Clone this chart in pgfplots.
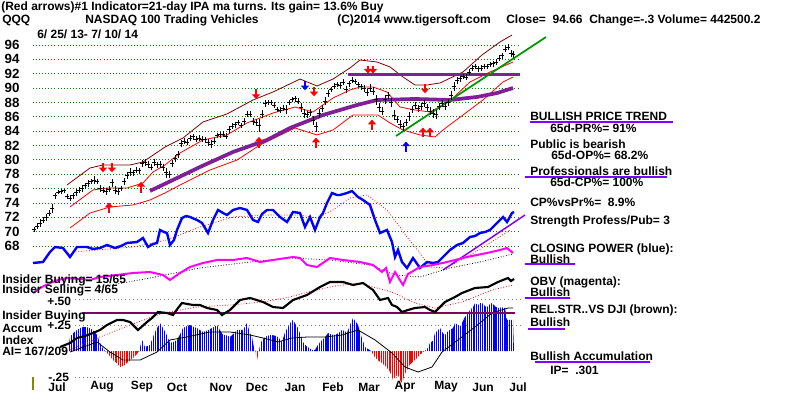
\documentclass[border=0pt]{standalone}
\usepackage{fontspec}
\setmainfont{Liberation Sans}
\usepackage{pgfplots}
\pgfplotsset{compat=1.18}
\usetikzlibrary{arrows.meta,patterns.meta}
\newcommand\tf{\fontsize{9}{10.8}\selectfont\bfseries}
\definecolor{cpblue}{RGB}{0,0,255}
\definecolor{obvmag}{RGB}{255,0,255}
\definecolor{maroonb}{RGB}{128,0,0}
\definecolor{tsred}{RGB}{255,0,0}
\definecolor{tspurple}{RGB}{128,32,150}
\definecolor{uline}{RGB}{128,0,255}
\definecolor{tsgreen}{RGB}{0,150,0}
\definecolor{gridgreen}{RGB}{0,128,0}
\definecolor{hline}{RGB}{128,0,100}
\pgfplotsset{frame/.style={scale only axis, width=600pt, height=296.25pt, xmin=0, xmax=800,
  at={(300pt,148.125pt)}, anchor=center, axis line style={draw=none}, tick style={draw=none}, clip=false}}
\begin{document}
\begin{tikzpicture}
\useasboundingbox (0,0) rectangle (600pt,296.25pt);
% ---------------- price panel (x: chart position, y: price) ----------------
\begin{axis}[frame, ymin=47.253, ymax=102.267,
  ytick={68,70,...,96}, yticklabel style={anchor=west, font=\fontsize{10}{12}\selectfont\bfseries},
  /pgf/number format/assume math mode=true,
  xtick={57,102,142,177,221,257,295,333,369,405,446,483,518},
  xticklabels={Jul,Aug,Sep,Oct,Nov,Dec,Jan,Feb,Mar,Apr,May,Jun,Jul},
  xticklabel style={anchor=center, yshift=6pt, font=\tf}]
\pgfplotsinvokeforeach{68,70,...,96}{
  \addplot[gridgreen, line width=0.6pt, dash pattern=on 0.7pt off 1.6pt] coordinates {(33,#1) (520,#1)};}
% upper band
\addplot[maroonb, line width=0.6pt] coordinates {(67,76.50)(90,78.87)(103,79.29)(130,79.29)(143,79.71)(165,81.79)(183,83.05)(203,85.28)(227,86.39)(253,88.34)(273,89.45)(300,91.26)(317,90.29)(333,91.26)(350,92.80)(360,93.91)(377,93.63)(390,92.94)(403,91.54)(415,90.43)(427,90.43)(440,90.71)(463,92.24)(482,94.61)(500,96.42)(512,97.39)};
% middle red
\addplot[tsred, line width=0.6pt] coordinates {(70,73.44)(93,75.81)(107,76.08)(127,76.08)(143,76.78)(153,78.31)(165,79.29)(180,80.96)(203,82.77)(227,83.47)(247,85.14)(260,85.83)(273,86.53)(295,87.36)(313,86.67)(333,88.62)(350,89.73)(360,90.15)(373,90.15)(387,89.45)(400,87.36)(415,86.95)(430,86.67)(443,87.64)(453,88.62)(470,90.85)(490,92.24)(513,93.63)};
% lower red
\addplot[tsred, line width=0.6pt] coordinates {(70,70.51)(90,72.60)(110,73.44)(133,73.72)(150,74.41)(165,75.39)(180,76.50)(210,78.59)(237,79.98)(260,82.07)(295,84.44)(317,83.47)(333,84.16)(353,86.25)(378,86.25)(390,85.14)(403,84.16)(420,83.47)(435,83.19)(443,84.16)(467,86.67)(483,88.34)(503,90.85)(513,91.54)};
% 65-day ma
\addplot[tspurple, line width=2.8pt] coordinates {(150,75.67)(173,77.20)(200,79.01)(233,81.10)(267,82.77)(290,84.44)(323,86.25)(357,87.64)(377,88.34)(415,88.48)(450,88.34)(477,88.76)(497,89.31)(513,90.01)};
\addplot[tspurple, line width=2.2pt] coordinates {(348,91.89)(520,91.89)};
\addplot[tsgreen, line width=1.3pt] coordinates {(396,83.33)(546,97.11)};
% price bars
\addplot[black, only marks, mark=-, mark size=1.3pt, mark options={line width=0.6pt},
  error bars/.cd, y dir=both, y explicit, error mark=none, error bar style={line width=0.75pt}]
  table[x=x, y=c, y error=e] {
x c e
34 70.3 0.4
37 70.8 0.4
40 71.2 0.5
43 71.6 0.4
46 72.0 0.5
49 72.6 0.4
52 73.2 0.6
55 75.0 0.4
58 75.5 0.3
61 75.6 0.3
64 75.7 0.3
67 74.9 0.4
70 74.7 0.4
73 75.0 0.4
76 75.4 0.5
79 75.8 0.4
82 76.0 0.5
85 76.4 0.4
88 76.7 0.5
91 77.0 0.4
94 77.2 0.5
97 77.0 0.4
100 76.0 0.5
103 75.8 0.4
106 75.6 0.5
109 75.9 0.4
112 76.8 0.6
115 75.8 0.5
118 75.6 0.5
121 76.0 0.4
124 77.0 0.5
127 77.8 0.5
130 78.3 0.5
133 78.2 0.4
136 78.6 0.4
139 78.5 0.4
142 79.5 0.5
145 79.6 0.5
148 79.3 0.5
151 79.0 0.4
154 79.6 0.5
157 79.3 0.4
160 79.4 0.5
163 78.9 0.5
166 78.2 0.7
169 78.0 0.5
172 79.5 0.5
175 80.2 0.5
178 80.8 0.5
181 82.3 0.5
184 82.6 0.4
187 82.5 0.4
190 83.0 0.4
193 83.2 0.4
196 82.9 0.4
199 83.0 0.4
202 82.9 0.4
205 82.8 0.4
208 82.4 0.5
211 82.2 0.6
214 82.6 0.4
217 83.4 0.4
220 83.5 0.4
223 83.6 0.4
226 83.3 0.4
229 84.2 0.5
232 84.7 0.4
235 84.9 0.4
238 85.2 0.4
241 84.8 0.4
244 85.4 0.5
247 86.4 0.4
250 86.4 0.4
253 85.4 0.5
256 85.2 0.5
259 84.8 0.9
262 86.4 0.6
265 87.8 0.5
268 88.0 0.4
271 88.0 0.4
274 87.6 0.4
277 87.0 0.4
280 86.9 0.4
283 87.2 0.4
286 87.0 0.6
289 88.0 0.4
292 88.4 0.4
295 88.5 0.4
298 88.2 0.4
301 87.3 0.6
304 86.5 0.6
307 86.3 0.5
310 86.6 0.5
313 85.5 0.6
316 84.6 0.7
319 86.5 0.6
322 87.2 0.5
325 88.2 0.5
328 89.2 0.5
331 89.8 0.4
334 90.3 0.4
337 90.5 0.4
340 90.4 0.4
343 90.8 0.4
346 89.8 0.5
349 90.6 0.4
352 91.1 0.4
355 90.9 0.4
358 90.5 0.4
361 90.2 0.4
364 89.9 0.5
367 89.4 0.5
370 90.0 0.5
373 89.6 0.5
376 88.4 0.7
379 87.3 0.6
382 86.8 0.5
385 88.4 0.6
388 89.0 0.5
391 88.0 0.6
394 86.2 0.7
397 85.6 0.5
400 85.0 0.6
403 84.6 0.6
406 85.2 0.5
409 86.0 0.6
412 87.0 0.5
415 87.6 0.5
418 87.2 0.5
421 87.4 0.5
424 87.8 0.5
427 87.3 0.5
430 86.8 0.5
433 86.5 0.6
436 86.3 0.6
439 87.4 0.5
442 87.8 0.5
445 87.5 0.5
448 88.0 0.5
451 89.0 0.6
454 90.2 0.6
457 91.0 0.5
460 91.3 0.4
463 91.6 0.4
466 91.5 0.4
469 92.2 0.4
472 92.8 0.4
475 93.0 0.4
478 92.7 0.4
481 92.8 0.4
484 93.0 0.4
487 93.0 0.4
490 93.3 0.4
493 93.4 0.4
496 93.6 0.4
499 94.2 0.4
502 94.5 0.4
505 95.4 0.4
508 95.7 0.4
511 94.8 0.5
513 94.7 0.5
};
% signal arrows
\addplot[tsred, line width=2pt, -{Triangle[width=6pt,length=3.5pt]}, quiver={u=\thisrow{u}, v=\thisrow{v}}] table {
x y u v
103 79.57 0 -1.30
112 79.57 0 -1.30
256 89.87 0 -1.39
314 90.15 0 -1.30
368 93.08 0 -1.05
373 93.08 0 -1.05
425 90.57 0 -1.30
109 72.60 0 1.45
141 75.39 0 1.55
259 81.65 0 1.55
316 81.65 0 1.45
372 84.16 0 1.45
423 83.19 0 1.30
430 83.19 0 1.30
};
\addplot[cpblue, line width=2pt, -{Triangle[width=6pt,length=3.5pt]}, quiver={u=\thisrow{u}, v=\thisrow{v}}] table {
x y u v
305 90.99 0 -1.30
406 81.10 0 1.45
};
\end{axis}
% ---------------- accumulation index ----------------
\begin{axis}[frame, ymin=-0.423, ymax=3.375, xtick=\empty, ytick=\empty]
\pgfplotsinvokeforeach{-0.25,0.25,0.5}{
  \addplot[gray, line width=0.6pt, dash pattern=on 0.7pt off 2.2pt] coordinates {(75,#1) (520,#1)};}
\addplot[draw=none, pattern={Lines[angle=90,distance=1.37pt,line width=0.8pt]}, pattern color=cpblue] coordinates {
(68,0)(70,0.135)(74,0.18)(77,0.202)(80,0.22)(83,0.231)(86,0.23)(90,0.221)(94,0.19)(97,0.154)(100,0.08)(102,0.038)(105,0)
(139,0)(142,0.106)(145,0.038)(150,0.058)(155,0.183)(160,0.269)(163,0.22)(166,0.17)(170,0.077)(174,0.09)(177,0.106)(180,0.16)
(183,0.221)(187,0.24)(190,0.25)(194,0.23)(197,0.221)(200,0.2)(203,0.183)(208,0.2)(212,0.221)(217,0.25)(220,0.2)(223,0.154)
(227,0.15)(230,0.135)(234,0.17)(237,0.202)(243,0.202)(247,0.269)(250,0.17)(252,0.135)(254,0.03)(255.5,0)
(259,0)(260,0.05)(262,0.106)(266,0.14)(270,0.154)(274,0.15)(278,0.135)(282,0.087)(285,0.18)(288,0.231)(291,0.28)(293,0.298)
(296,0.25)(298,0.221)(301,0.14)(303,0.087)(306,0.05)(309,0.03)(312,0.01)(315,0.01)(318,0.06)(322,0.106)(325,0.13)(328,0.173)
(331,0.16)(335,0.154)(338,0.17)(342,0.202)(345,0.19)(347,0.173)(350,0.25)(353,0.317)(356,0.28)(358,0.25)(361,0.15)(365,0.038)
(368,0.02)(371,0)
(425,0)(428,0.03)(430,0.077)(433,0.1)(435,0.173)(438,0.2)(440,0.221)(443,0.17)(445,0.154)(448,0.19)(450,0.202)(453,0.22)
(455,0.269)(458,0.25)(460,0.231)(463,0.29)(465,0.327)(468,0.36)(470,0.394)(473,0.42)(475,0.462)(478,0.44)(480,0.46)(482,0.462)
(485,0.43)(487,0.423)(490,0.45)(492,0.462)(495,0.43)(498,0.414)(502,0.42)(505,0.414)(507,0.30)(509,0.298)(511,0.30)(513,0.298)(514,0)
} -- cycle;
\addplot[draw=none, pattern={Lines[angle=90,distance=1.37pt,line width=0.8pt]}, pattern color=tsred] coordinates {
(105,0)(107,-0.019)(110,-0.05)(113,-0.087)(117,-0.12)(120,-0.154)(124,-0.14)(127,-0.115)(130,-0.09)(133,-0.067)(136,-0.04)(139,0)
(255.5,0)(257,-0.087)(259,0)
(371,0)(374,-0.05)(378,-0.09)(382,-0.115)(386,-0.15)(390,-0.2)(393,-0.279)(396,-0.24)(398,-0.231)(400,-0.28)(402,-0.308)
(405,-0.22)(407,-0.183)(410,-0.13)(413,-0.106)(416,-0.08)(420,-0.038)(423,-0.01)(425,0)
} -- cycle;
\addplot[black, line width=0.6pt] coordinates {(70,-0.01)(97,0.087)(110,-0.01)(123,-0.087)(140,-0.087)(157,-0.01)(170,0.106)(187,0.135)(210,0.183)(230,0.183)(250,0.154)(263,0.125)(278,0.087)(292,0.125)(308,0.135)(325,0.135)(342,0.154)(358,0.202)(375,0.106)(392,-0.019)(405,-0.154)(418,-0.202)(432,-0.154)(442,-0.01)(458,0.106)(475,0.231)(492,0.365)(508,0.413)(513,0.413)};
\begin{scope}[every node/.style={anchor=west, inner sep=0pt, font=\tf}]
\node at (axis cs:47,0.481) {+.50};
\node at (axis cs:47,0.25) {+.25};
\node at (axis cs:48,-0.25) {-.25};
\end{scope}
\end{axis}
% ---------------- indicator lines and texts (chart pixel frame) ----------------
\begin{axis}[frame, ymin=0, ymax=395, y dir=reverse, xtick=\empty, ytick=\empty]
\addplot[hline, line width=0.8pt] coordinates {(82,313)(515,313)};
% closing power ma and line
\addplot[tsred, line width=0.6pt, dash pattern=on 0.6pt off 1.4pt] coordinates {(73,252)(133,247)(167,240)(200,227)(233,217)(267,215)(300,215)(317,218)(333,210)(350,198)(367,195)(387,210)(400,227)(407,237)(420,253)(430,267)(445,268)(467,257)(490,243)(510,230)};
\addplot[uline, line width=1.1pt] coordinates {(443,270)(525,215)};
\addplot[cpblue, line width=1.8pt] coordinates {(33,263)(43,262)(50,252)(55,247)(63,248)(70,257)(77,247)(87,247)(93,249)(100,248)(107,245)(115,248)(121,246)(127,243)(137,242)(143,238)(148,247)(153,244)(157,243)(160,230)(164,232)(167,233)(170,245)(174,240)(177,230)(182,218)(186,216)(190,217)(197,220)(202,223)(208,233)(213,220)(218,210)(223,213)(227,215)(233,210)(240,208)(247,210)(253,220)(258,222)(262,214)(267,210)(273,210)(280,217)(287,222)(293,212)(300,213)(305,227)(310,217)(315,230)(320,217)(323,213)(327,203)(332,193)(337,195)(340,195)(347,193)(352,191)(358,197)(363,200)(370,205)(375,220)(380,233)(387,230)(392,242)(395,257)(398,250)(402,262)(407,268)(413,258)(420,268)(427,262)(433,263)(438,262)(443,257)(450,250)(457,245)(463,243)(470,237)(475,236)(480,233)(485,232)(490,230)(497,223)(503,217)(507,222)(512,213)(514,212)};
% OBV
\addplot[black, line width=0.6pt, dash pattern=on 0.6pt off 1.4pt] coordinates {(100,287)(150,278)(200,268)(250,262)(290,258)(330,260)(370,265)(395,275)(420,277)(450,268)(480,262)(513,254)};
\addplot[obvmag, line width=1.5pt] coordinates {(33,293)(42,287)(50,283)(58,280)(67,278)(80,279)(90,280)(100,277)(117,275)(133,273)(150,272)(163,275)(170,280)(180,273)(190,267)(203,263)(217,260)(233,260)(247,258)(260,262)(273,260)(293,257)(300,258)(307,265)(317,267)(330,258)(343,260)(360,262)(373,265)(382,272)(386,268)(390,282)(395,272)(398,277)(403,285)(408,274)(420,267)(433,265)(447,262)(467,257)(487,253)(500,250)(507,248)(513,253)};
% relative strength
\addplot[tsred, line width=0.6pt, dash pattern=on 0.6pt off 1.4pt] coordinates {(70,350)(100,337)(130,325)(163,313)(197,307)(230,305)(263,302)(290,297)(308,292)(335,286)(358,283)(392,292)(415,303)(435,308)(462,302)(492,290)(513,285)};
\addplot[black, line width=1.6pt] coordinates {(60,347)(70,343)(77,338)(85,336)(93,333)(100,330)(107,325)(117,320)(123,320)(130,322)(138,330)(147,322)(152,318)(158,312)(167,313)(173,315)(178,308)(182,303)(193,305)(200,305)(207,308)(217,310)(222,315)(230,310)(240,300)(250,298)(263,302)(273,307)(283,308)(293,300)(307,295)(320,287)(330,282)(343,282)(353,285)(363,283)(373,290)(380,300)(388,298)(392,305)(397,307)(402,312)(408,310)(415,308)(425,307)(430,310)(435,312)(440,307)(445,302)(455,297)(462,293)(475,288)(488,287)(498,282)(508,278)(511,281)(514,279)};
\addplot[olive, line width=0.8pt] coordinates {(33,377)(33,390)};
% underlines
\addplot[uline, line width=1.5pt] coordinates {(530,122)(673,122)};
\addplot[uline, line width=1.5pt] coordinates {(525,177)(667,177)};
\addplot[uline, line width=1.5pt] coordinates {(525,264)(575,264)};
\addplot[uline, line width=1.5pt] coordinates {(525,298)(570,298)};
\addplot[uline, line width=1.5pt] coordinates {(528,329)(565,329)};
\addplot[uline, line width=1.5pt] coordinates {(535,362)(650,362)};
% texts
\begin{scope}[every node/.style={anchor=west, inner sep=0pt, font=\tf}]
\node at (axis cs:1,7) {(Red arrows)\#1 Indicator=21-day IPA ma turns. Its gain= 13.6\% Buy};
\node at (axis cs:2,20) {QQQ};
\node at (axis cs:85,20) {NASDAQ 100 Trading Vehicles};
\node at (axis cs:337,20) {(C)2014 www.tigersoft.com};
\node at (axis cs:506,20) {Close=\ \ 94.66\ \ Change=-.3 Volume= 442500.2};
\node at (axis cs:37,34) {6/ 25/ 13- 7/ 10/ 14};
\node at (axis cs:530,116) {BULLISH PRICE TREND};
\node at (axis cs:550,128) {65d-PR\%= 91\%};
\node at (axis cs:530,144) {Public is bearish};
\node at (axis cs:551,155) {65d-OP\%= 68.2\%};
\node at (axis cs:530,171) {Professionals are bullish};
\node at (axis cs:550,182) {65d-CP\%= 100\%};
\node at (axis cs:530,202) {CP\%vsPr\%=\ \ 8.9\%};
\node at (axis cs:530,221) {Strength Profess/Pub= 3};
\node at (axis cs:530,249) {CLOSING POWER (blue):};
\node at (axis cs:530,259) {Bullish};
\node at (axis cs:530,282) {OBV (magenta):};
\node at (axis cs:530,292) {Bullish};
\node at (axis cs:530,310) {REL.STR..VS DJI (brown):};
\node at (axis cs:530,322) {Bullish};
\node at (axis cs:530,356) {Bullish Accumulation};
\node at (axis cs:550,370) {IP=\ \ .301};
\node at (axis cs:2,280) {Insider Buying= 15/65};
\node at (axis cs:2,290) {Insider Selling= 4/65};
\node at (axis cs:2,316) {Insider Buying};
\node at (axis cs:2,328) {Accum};
\node at (axis cs:2,340) {Index};
\node at (axis cs:2,351) {AI= 167/209};
\end{scope}
\end{axis}
\end{tikzpicture}
\end{document}
